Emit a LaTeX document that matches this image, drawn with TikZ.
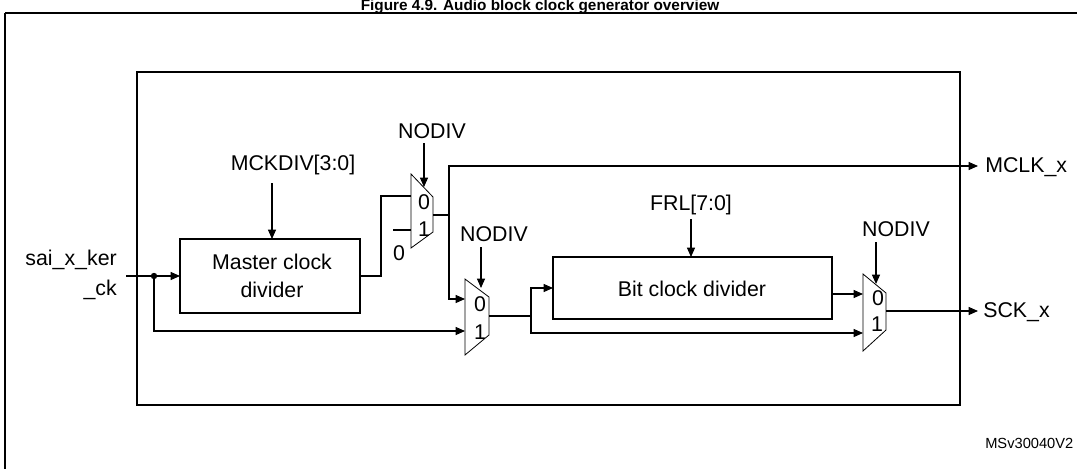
\documentclass[tikz,border=0pt]{standalone}
\usepackage{fontspec}
\setmainfont{Liberation Sans}
\usetikzlibrary{arrows.meta}
\begin{document}
\begin{tikzpicture}[x=0.75pt,y=-0.75pt,
  wire/.style={line width=0.8pt},
  arr/.style={wire,-{Triangle[length=7pt,width=6pt]}},
  blk/.style={draw,line width=0.8pt},
  lbl/.style={font=\fontsize{16}{18}\selectfont,inner sep=0pt},
  mux/.style={line width=0.6pt}]
\useasboundingbox (0,0) rectangle (1077,468);
\node[font=\bfseries\fontsize{11.5}{13}\selectfont,anchor=base] (title) at (540,10.5) {Figure 4.9. Audio block clock generator overview};
\draw[line width=1pt] (5,13) -- (1090,13) (5,13) -- (5,480);
\draw[blk] (137,72) rectangle (960,405);
\coordinate (inner) at (550,240);
% blocks
\draw[blk] (180,239) rectangle (360,313);
\node[lbl,align=center] (mcd) at (272,276) {Master clock\\[3pt]divider};
\coordinate (mcdW) at (180,276); \coordinate (mcdE) at (360,276); \coordinate (mcdN) at (272,239);
\draw[blk] (553,257) rectangle (832,319);
\node[lbl] (bcd) at (692,289) {Bit clock divider};
\coordinate (bcdW) at (553,288); \coordinate (bcdE) at (832,294); \coordinate (bcdN) at (691,257);
% muxes
\draw[mux] (411,174) -- (433,197) -- (433,232) -- (411,248) -- cycle;
\draw[mux] (465,279) -- (489,297) -- (489,335) -- (465,355) -- cycle;
\draw[mux] (863,274) -- (886,293) -- (886,330) -- (863,351) -- cycle;
\node[lbl] at (424,202) {0}; \node[lbl] at (424,229) {1};
\node[lbl] at (480,304) {0}; \node[lbl] at (480,332) {1};
\node[lbl] at (878,298) {0}; \node[lbl] at (877,324) {1};
\coordinate (m1i0) at (411,196); \coordinate (m1i1) at (411,230); \coordinate (m1o) at (433,215); \coordinate (m1s) at (424,187);
\coordinate (m2i0) at (465,299); \coordinate (m2i1) at (465,331); \coordinate (m2o) at (489,316); \coordinate (m2s) at (481,288);
\coordinate (m3i0) at (863,294); \coordinate (m3i1) at (863,333); \coordinate (m3o) at (886,311); \coordinate (m3s) at (876,284);
% labels
\node[lbl,align=right,anchor=east] (in) at (117,275) {sai\_x\_ker\\[4pt]\_ck};
\node[lbl] (mck) at (293,165) {MCKDIV[3:0]};
\node[lbl] (nd1) at (432,131) {NODIV};
\node[lbl] (nd2) at (494,234) {NODIV};
\node[lbl] (nd3) at (896,229) {NODIV};
\node[lbl] (frl) at (691,205) {FRL[7:0]};
\node[lbl,anchor=west] (mclk) at (985,167) {MCLK\_x};
\node[lbl,anchor=west] (sck) at (983,312) {SCK\_x};
\node[lbl] (zero) at (399,253) {0};
\node[font=\fontsize{11}{13}\selectfont,anchor=west,inner sep=0pt] (ref) at (985,443) {MSv30040V2};
% wires
\coordinate (in0) at (126,276); \coordinate (dot) at (154,276);
\draw[wire] (in0) -- (dot);
\fill (dot) circle (3.2);
\draw[arr] (dot) -- (mcdW);
\draw[arr] (dot) |- (m2i1);
\draw[arr] (272,183) -- (mcdN);
\draw[wire] (mcdE) -- (381,276) |- (m1i0);
\draw[wire] (393,230) -- (m1i1);
\draw[arr] (424,143) -- (m1s);
\draw[wire] (m1o) -- (449,215);
\draw[arr] (449,215) |- (978,166);
\draw[arr] (449,215) |- (m2i0);
\draw[arr] (481,247) -- (m2s);
\draw[wire] (m2o) -- (531,316);
\draw[arr] (531,316) |- (bcdW);
\draw[arr] (531,316) |- (m3i1);
\draw[arr] (691,219) -- (bcdN);
\draw[arr] (bcdE) -- (m3i0);
\draw[arr] (876,242) -- (m3s);
\draw[arr] (m3o) -- (978,311);
\end{tikzpicture}
\end{document}
